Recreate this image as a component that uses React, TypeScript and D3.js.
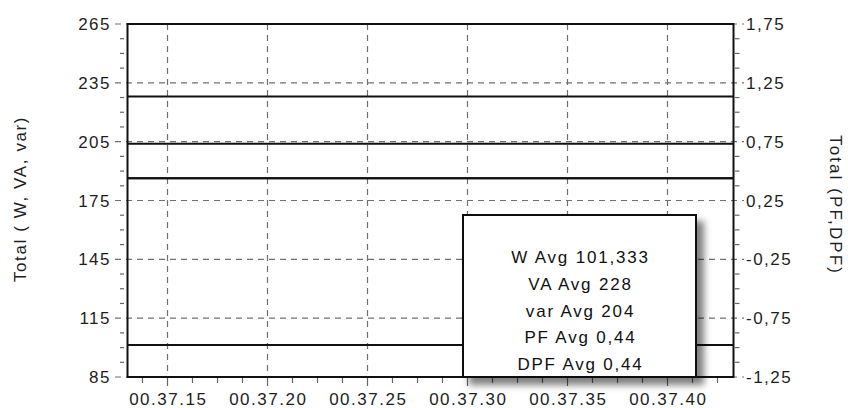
import React from "react";
import * as d3 from "d3";

// ---- data ----
const sampleSeconds = [13, 20, 30, 43.3]; // seconds after 00:37:00
const wValues = [101.333, 101.333, 101.333, 101.333];
const vaValues = [228, 228, 228, 228];
const varValues = [204, 204, 204, 204];
const pfValues = [0.44, 0.44, 0.44, 0.44];
const dpfValues = [0.44, 0.44, 0.44, 0.44];
const leftTicks = [85, 115, 145, 175, 205, 235, 265];
const rightTicks = [-1.25, -0.75, -0.25, 0.25, 0.75, 1.25, 1.75];
const leftTitle = "Total ( W, VA, var)";
const rightTitle = "Total (PF,DPF)";

const W = 848;
const H = 408;
const margin = { left: 127.5, right: 733.5, top: 24, bottom: 377 };
const FONT = "'Liberation Sans', Arial, sans-serif";
const TXT = "#1e1e1e";

const t = (s: number) => new Date(2000, 0, 1, 0, 37, 0, Math.round(s * 1000));

export default function App() {
  const x = d3.scaleTime().domain([t(13), t(43.3)]).range([margin.left, margin.right]);
  const yL = d3.scaleLinear().domain([85, 265]).range([margin.bottom, margin.top]);
  const yR = d3.scaleLinear().domain([-1.25, 1.75]).range([margin.bottom, margin.top]);
  const fmtTime = d3.timeFormat("%H.%M.%S");
  const majorX = x.ticks(d3.timeSecond.every(5) as any);
  const minorX = d3
    .range(13750, 43300, 1250)
    .map((ms) => t(ms / 1000))
    .filter((d) => d.getMilliseconds() !== 0 || d.getSeconds() % 5 !== 0);
  const minorL = d3.range(85, 265, 7.5).filter((v) => (v - 85) % 30 !== 0);
  const minorR = d3.range(-1.25, 1.75, 0.125).filter((v) => Math.abs(((v + 1.25) / 0.5) % 1) > 1e-6);

  const lineL = (vals: number[]) =>
    d3.line<number>().x((_, i) => x(t(sampleSeconds[i]))).y((v) => yL(v))(vals) || "";
  const lineR = (vals: number[]) =>
    d3.line<number>().x((_, i) => x(t(sampleSeconds[i]))).y((v) => yR(v))(vals) || "";

  const fmtNum = (v: number) => String(+v.toFixed(3)).replace(".", ",");
  const legendItems = [
    `W Avg ${fmtNum(d3.mean(wValues)!)}`,
    `VA Avg ${fmtNum(d3.mean(vaValues)!)}`,
    `var Avg ${fmtNum(d3.mean(varValues)!)}`,
    `PF Avg ${fmtNum(d3.mean(pfValues)!)}`,
    `DPF Avg ${fmtNum(d3.mean(dpfValues)!)}`,
  ];

  const lg = { x: 463, y: 215, w: 233, h: 162 };

  return (
    <svg
      width={W}
      height={H}
      style={{ position: "absolute", left: 0, top: 0, background: "#fff" }}
      fontFamily={FONT}
    >
      <defs>
        <filter id="shadow" x="-10%" y="-10%" width="130%" height="130%">
          <feDropShadow dx="7" dy="7" stdDeviation="3.5" floodColor="#000" floodOpacity="0.5" />
        </filter>
      </defs>
      <rect width={W} height={H} fill="#fff" />

      {/* horizontal gridlines + major ticks */}
      {leftTicks.map((v) => (
        <line
          key={"gh" + v}
          x1={115}
          x2={744}
          y1={yL(v)}
          y2={yL(v)}
          stroke="#707070"
          strokeWidth={1.2}
          strokeDasharray="6,5"
        />
      ))}
      {/* vertical gridlines */}
      {majorX.map((d) => (
        <line
          key={"gv" + +d}
          x1={x(d)}
          x2={x(d)}
          y1={margin.top}
          y2={margin.bottom}
          stroke="#707070"
          strokeWidth={1.2}
          strokeDasharray="6,5"
        />
      ))}

      {/* minor ticks */}
      {minorL.map((v) => (
        <line key={"ml" + v} x1={120} x2={124} y1={yL(v)} y2={yL(v)} stroke="#666" strokeWidth={1.2} />
      ))}
      {minorR.map((v) => (
        <line key={"mr" + v} x1={735} x2={739.5} y1={yR(v)} y2={yR(v)} stroke="#666" strokeWidth={1.2} />
      ))}
      {minorX.map((d) => (
        <line key={"mx" + +d} x1={x(d)} x2={x(d)} y1={margin.bottom} y2={margin.bottom + 6} stroke="#666" strokeWidth={1.2} />
      ))}
      {majorX.map((d) => (
        <line key={"Mx" + +d} x1={x(d)} x2={x(d)} y1={margin.bottom} y2={margin.bottom + 9} stroke="#666" strokeWidth={1.2} />
      ))}

      {/* data lines */}
      {[wValues, vaValues, varValues].map((vals, i) => (
        <path key={"l" + i} d={lineL(vals)} fill="none" stroke="#111" strokeWidth={2} />
      ))}
      {[pfValues, dpfValues].map((vals, i) => (
        <path key={"r" + i} d={lineR(vals)} fill="none" stroke="#111" strokeWidth={2} />
      ))}

      {/* frame */}
      <rect
        x={margin.left}
        y={margin.top}
        width={margin.right - margin.left}
        height={margin.bottom - margin.top}
        fill="none"
        stroke="#111"
        strokeWidth={2}
      />

      {/* left labels */}
      {leftTicks.map((v) => (
        <text
          key={"tl" + v}
          x={111}
          y={yL(v)}
          dy="0.36em"
          textAnchor="end"
          fontSize={17}
          letterSpacing={1.5}
          fill={TXT}
        >
          {v}
        </text>
      ))}
      {/* right labels */}
      {rightTicks.map((v) => (
        <text
          key={"tr" + v}
          x={746}
          y={yR(v)}
          dy="0.36em"
          textAnchor="start"
          fontSize={17}
          letterSpacing={1.5}
          fill={TXT}
        >
          {String(v.toFixed(2)).replace(".", ",")}
        </text>
      ))}
      {/* bottom labels */}
      {majorX.map((d) => (
        <text
          key={"tx" + +d}
          x={x(d) + 0.75}
          y={405}
          textAnchor="middle"
          fontSize={17}
          letterSpacing={1.5}
          fill={TXT}
        >
          {fmtTime(d)}
        </text>
      ))}

      {/* axis titles */}
      <text
        transform="translate(26,199) rotate(-90)"
        textAnchor="middle"
        fontSize={17}
        letterSpacing={1.6}
        fill={TXT}
      >
        {leftTitle}
      </text>
      <text
        transform="translate(830,205) rotate(90)"
        textAnchor="middle"
        fontSize={17}
        letterSpacing={2.1}
        fill={TXT}
      >
        {rightTitle}
      </text>

      {/* legend */}
      <rect x={lg.x} y={lg.y} width={lg.w} height={lg.h} fill="#fff" stroke="#111" strokeWidth={2} filter="url(#shadow)" />
      {legendItems.map((s, i) => (
        <text
          key={"lg" + i}
          x={lg.x + lg.w / 2 + 1}
          y={lg.y + 42 + i * 26.7}
          dy="0.36em"
          textAnchor="middle"
          fontSize={17}
          letterSpacing={1.8}
          fill="#111"
        >
          {s}
        </text>
      ))}
    </svg>
  );
}
